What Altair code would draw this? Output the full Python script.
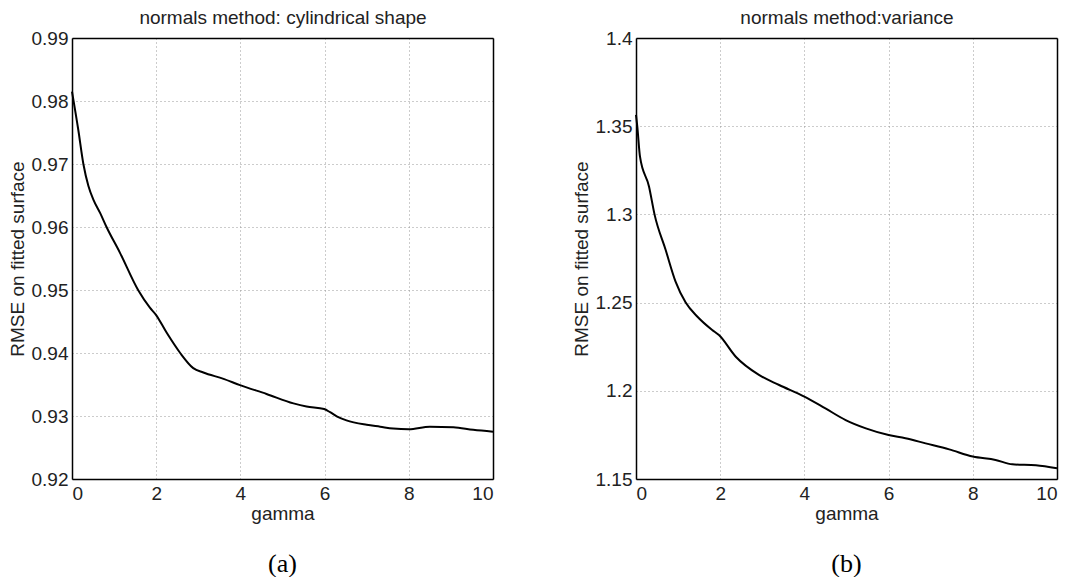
import altair as alt
import pandas as pd

# ---- data ----
gamma_a = [0, 0.15, 0.27, 0.39, 0.51, 0.67, 0.82, 1.14, 1.57, 1.85, 1.99, 2.25, 2.57, 2.88,
           3.12, 3.6, 3.99, 4.62, 5.26, 5.57, 5.99, 6.13, 6.3, 6.52, 7.0, 7.32, 7.63, 8.0,
           8.5, 9.06, 9.53, 10]
rmse_a = [0.9815, 0.9754, 0.9700, 0.9665, 0.9643, 0.9622, 0.9600, 0.9559, 0.9500, 0.9472,
          0.9461, 0.9432, 0.9400, 0.9376, 0.9369, 0.9359, 0.9349, 0.9335, 0.9320, 0.9315,
          0.9311, 0.9306, 0.9299, 0.9293, 0.9286, 0.9283, 0.9280, 0.9279, 0.9283, 0.9282,
          0.9278, 0.9275]

gamma_b = [0, 0.03, 0.095, 0.31, 0.44, 0.705, 0.94, 1.18, 1.46, 1.81, 1.97, 2.37, 2.92,
           3.4, 4.0, 4.5, 4.98, 5.46, 6.0, 6.4, 6.88, 7.44, 8.0, 8.54, 8.94, 9.5, 10]
rmse_b = [1.3564, 1.3500, 1.3327, 1.3157, 1.3000, 1.2798, 1.2619, 1.2500, 1.2420, 1.2345,
          1.2316, 1.2193, 1.2090, 1.2033, 1.1967, 1.1900, 1.1834, 1.1787, 1.1749, 1.1731,
          1.1702, 1.1668, 1.1627, 1.1608, 1.1583, 1.1578, 1.1561]

x_ticks = [0, 2, 4, 6, 8, 10]
y_ticks_a = [0.92, 0.93, 0.94, 0.95, 0.96, 0.97, 0.98, 0.99]
y_ticks_b = [1.15, 1.2, 1.25, 1.3, 1.35, 1.4]

titles = ["normals method: cylindrical shape", "normals method:variance"]
captions = ["(a)", "(b)"]

FONT = "Liberation Sans"
FS = 19
W, H = 421, 441


def panel(g, v, title, ydom, yticks, yfmt, caption):
    df = pd.DataFrame({"gamma": g, "rmse": v})
    base = alt.Chart(df)
    xs = alt.Scale(domain=[0, 10], nice=False, zero=False)
    ys = alt.Scale(domain=ydom, nice=False, zero=False)
    line = base.mark_line(color="black", strokeWidth=2, interpolate="monotone").encode(
        x=alt.X("gamma:Q", scale=xs,
                axis=alt.Axis(values=x_ticks, title="gamma", grid=True, ticks=False, tickSize=0,
                              labelPadding=5, titlePadding=1, format="d")),
        y=alt.Y("rmse:Q", scale=ys,
                axis=alt.Axis(values=yticks, title="RMSE on fitted surface", grid=True,
                              ticks=False, tickSize=0, labelPadding=4, titlePadding=4,
                              format=yfmt)),
    )
    box = base.mark_line(opacity=0).encode(
        x=alt.X("gamma:Q", scale=xs,
                axis=alt.Axis(orient="top", labels=False, ticks=False, tickSize=0, grid=False,
                              title=title, titlePadding=11)),
        y=alt.Y("rmse:Q", scale=ys,
                axis=alt.Axis(orient="right", labels=False, ticks=False, tickSize=0,
                              grid=False, title=None)),
    )
    return alt.layer(line, box).resolve_axis(x="independent", y="independent").properties(
        width=W, height=H,
        title=alt.TitleParams(caption, orient="bottom", font="Liberation Serif", fontSize=26,
                              fontWeight="normal", color="black", offset=28),
    )


pa = panel(gamma_a, rmse_a, titles[0], [0.92, 0.99], y_ticks_a, ".2f", captions[0])
pb = panel(gamma_b, rmse_b, titles[1], [1.15, 1.4], y_ticks_b, "~g", captions[1])

chart = alt.hconcat(pa, pb, spacing=143, bounds="flush").properties(
    padding={"left": 0, "top": 0, "right": 0, "bottom": 0}
).configure_view(stroke=None).configure_axis(
    labelFont=FONT, titleFont=FONT, labelFontSize=FS, titleFontSize=FS,
    labelColor="#222", titleColor="#222", titleFontWeight="normal",
    domainColor="black", domainWidth=1.5,
    gridColor="#999", gridDash=[1, 3], gridWidth=1,
).configure_title(font="Liberation Serif")

chart.save("out.html", embed_options={"renderer": "svg", "actions": False})
